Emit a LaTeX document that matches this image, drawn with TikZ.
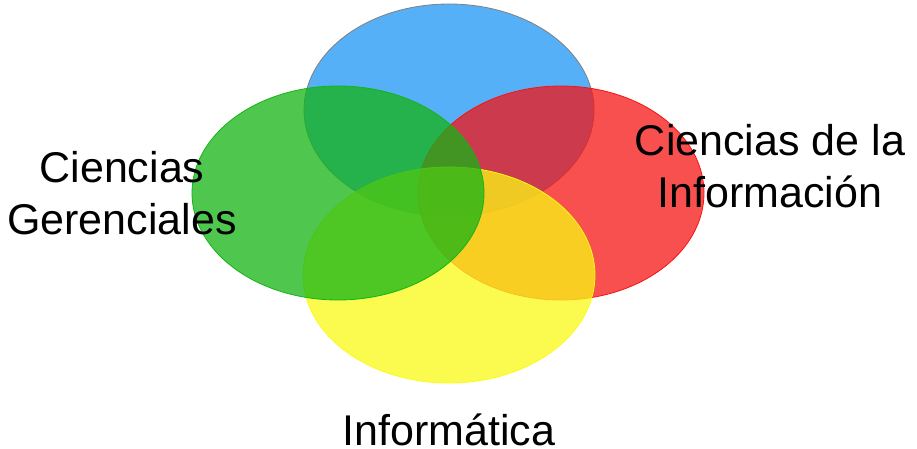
\documentclass[tikz,border=0pt]{standalone}
\usepackage{fontspec}
\setmainfont{Liberation Sans}
\definecolor{vblue}{RGB}{30,150,245}
\definecolor{vgreen}{RGB}{20,180,20}
\definecolor{vred}{RGB}{245,20,20}
\definecolor{vyellow}{RGB}{250,250,20}
\begin{document}
\begin{tikzpicture}[x=1pt,y=-1pt,
    set/.style={fill opacity=0.75,line width=0.8pt},
    label/.style={font=\fontsize{43}{52}\selectfont,inner sep=0pt,align=center}]
    \useasboundingbox (0,0) rectangle (917,449);

    \draw[set,fill=vblue,draw=gray] (449,110) ellipse[x radius=145pt,y radius=106pt];
    \draw[set,fill=vred,draw=vred] (561,193) ellipse[x radius=143pt,y radius=107pt];
    \draw[set,fill=vyellow,draw=vyellow] (449,275) ellipse[x radius=146pt,y radius=108pt];
    \draw[set,fill=vgreen,draw=vgreen] (338,193) ellipse[x radius=146pt,y radius=107pt];

    \node[label] (gerencia) at (122,193.5) {Ciencias\\Gerenciales};
    \node[label] (informacion) at (770,166) {Ciencias de la\\Información};
    \node[label,anchor=base] (informatica) at (449,445) {Informática};
  \end{tikzpicture}
\end{document}
